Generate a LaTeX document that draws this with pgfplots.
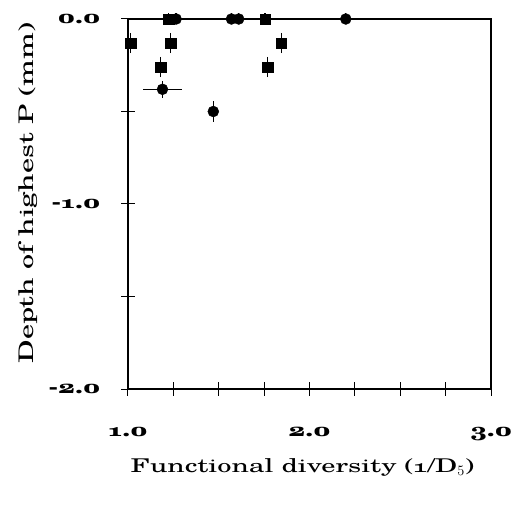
\documentclass[border=0pt]{standalone}
\usepackage{fontspec}
\setmainfont{TeX Gyre Schola}[Numbers=OldStyle, FakeStretch=1.5]
\usepackage{pgfplots}
\pgfplotsset{compat=1.18}
\usepackage{pgfplotstable}

% circles (filled) and squares (filled); ex, ey = error half-widths
\pgfplotstableread{
x     y      ex     ey
1.265 0.00   0.065  0
1.570 0.00   0.160  0
1.610 0.00   0      0
2.200 0.00   0.125  0
1.190 -0.38  0.075  0.015
1.470 -0.50  0      0.025
}\circdata
\pgfplotstableread{
x     y      ex     ey
1.225 0.00   0.055  0
1.755 0.00   0.205  0
1.015 -0.13  0      0.025
1.235 -0.13  0      0.025
1.180 -0.26  0      0.025
1.770 -0.26  0      0.025
1.845 -0.13  0      0.025
}\sqdata

\begin{document}
\begin{tikzpicture}
\begin{axis}[
  scale only axis,
  width=363bp, height=370bp,
  xmin=1, xmax=3, ymin=-2, ymax=0,
  axis line style={line width=1.2bp},
  xtick={1,2,3}, xticklabels={1.0,2.0,3.0},
  minor xtick={1.25,1.5,1.75,2.25,2.5,2.75},
  ytick={-2,-1,0}, yticklabels={-2.0,-1.0,0.0},
  minor ytick={-1.5,-0.5},
  xtick pos=bottom, ytick pos=left,
  tick align=center,
  major tick length=13bp, minor tick length=13bp,
  every tick/.style={black,line width=1bp},
  tick label style={font=\bfseries\fontsize{19}{23}\selectfont},
  xticklabel style={anchor=base, yshift=-41bp},
  yticklabel style={anchor=east, inner sep=0pt, xshift=-21bp},
  xlabel={Functional diversity (1/D$_5$)},
  ylabel={Depth of highest P (mm)},
  xlabel style={font=\fontsize{19}{24}\selectfont, at={(axis description cs:0.5,0)}, anchor=base, yshift=-83bp, xshift=-7bp},
  ylabel style={font=\fontsize{20.2}{25}\selectfont, at={(axis description cs:-0.274,0.53)}, anchor=center},
  clip=false,
]
\addplot[only marks, black, mark=*, mark size=5.5bp, mark options={fill=black},
  error bars/.cd, x dir=both, x explicit, y dir=both, y explicit,
  error bar style={line width=1.2bp}, error mark options={mark size=5.5bp, line width=1.2bp}]
  table[x=x, y=y, x error=ex, y error=ey] {\circdata};
\addplot[only marks, black, mark=square*, mark size=5.2bp, mark options={fill=black},
  error bars/.cd, x dir=both, x explicit, y dir=both, y explicit,
  error bar style={line width=1.2bp}, error mark options={mark size=5.5bp, line width=1.2bp}]
  table[x=x, y=y, x error=ex, y error=ey] {\sqdata};
\end{axis}
\pgfresetboundingbox
\path ([shift={(-128bp,-116bp)}]current axis.south west) rectangle ([shift={(27bp,19bp)}]current axis.north east);
\end{tikzpicture}
\end{document}
